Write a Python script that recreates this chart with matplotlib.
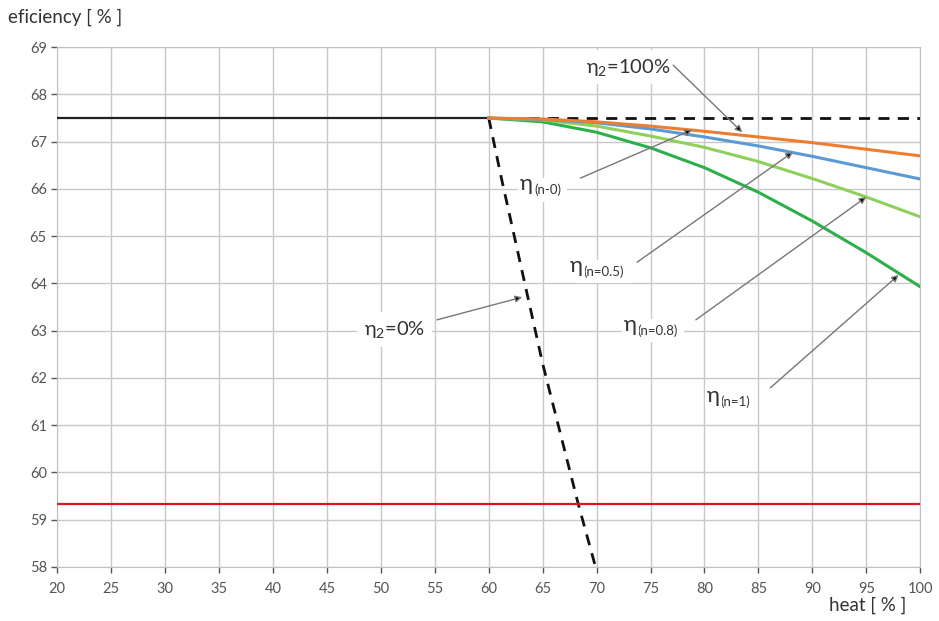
import numpy as np
import matplotlib.pyplot as plt

plt.rcParams['font.family'] = ['Lato', 'DejaVu Sans']
plt.rcParams['mathtext.fontset'] = 'custom'
plt.rcParams['mathtext.rm'] = 'Lato'
plt.rcParams['mathtext.it'] = 'Lato'

# data
heat = [60, 65, 70, 75, 80, 85, 90, 95, 100]
eta_orange = [67.5, 67.48, 67.42, 67.33, 67.22, 67.10, 66.98, 66.84, 66.70]
eta_blue = [67.5, 67.47, 67.40, 67.27, 67.10, 66.91, 66.69, 66.45, 66.21]
eta_lgreen = [67.5, 67.46, 67.33, 67.12, 66.88, 66.58, 66.22, 65.83, 65.41]
eta_dgreen = [67.5, 67.42, 67.20, 66.87, 66.45, 65.93, 65.32, 64.65, 63.93]

base_x = [20, 60]
base_y = [67.5, 67.5]
top_x = [60, 100]
top_y = [67.5, 67.5]
zero_x = [60, 61.2, 63.05, 65.0, 68.3, 69.9]
zero_y = [67.5, 66.2, 64.3, 62.3, 59.33, 58.0]
red_x = [20, 100]
red_y = [59.33, 59.33]

fig = plt.figure(figsize=(9.39, 6.21), dpi=100)
ax = fig.add_axes([0.061, 0.087, 0.919, 0.837])

ax.plot(base_x, base_y, color='#222222', lw=1.6, zorder=3)
ax.plot(top_x, top_y, color='#111111', lw=2, ls=(0, (4, 3)), zorder=3)
ax.plot(zero_x, zero_y, color='#111111', lw=2, ls=(0, (4, 3)), zorder=3)
ax.plot(red_x, red_y, color='#e0141e', lw=1.6, zorder=3)
ax.plot(heat, eta_dgreen, color='#2db04b', lw=2.2, zorder=4)
ax.plot(heat, eta_lgreen, color='#8fd05c', lw=2.2, zorder=4)
ax.plot(heat, eta_blue, color='#5b9bd5', lw=2.2, zorder=4)
ax.plot(heat, eta_orange, color='#ed7d31', lw=2.2, zorder=4)

arrow = dict(arrowstyle='-|>', color='#777777', fc='black', lw=1,
             mutation_scale=10, shrinkA=0, shrinkB=0)

# plain labels: (text, text pos, arrow tail, arrow head)
plain = [
    ('η$_2$=100%', (72.9, 68.58), (77.1, 68.62), (83.5, 67.2)),
    ('η$_2$=0%', (51.3, 63.02), (55.2, 63.23), (63.1, 63.71)),
]
for txt, tpos, tail, head in plain:
    ax.text(tpos[0], tpos[1], txt, fontsize=14.5, color='#333333', ha='center',
            va='center', bbox=dict(facecolor='white', edgecolor='none', pad=5), zorder=5)
    ax.annotate('', xy=head, xytext=tail, arrowprops=arrow, zorder=6)

# eta with subscript: (subscript, eta pos, arrow tail, arrow head)
subs = [
    ('(n-0)', (63.5, 66.1), (68.5, 66.23), (78.85, 67.25)),
    ('(n=0.5)', (68.1, 64.37), (73.75, 64.45), (88.2, 66.78)),
    ('(n=0.8)', (73.1, 63.12), (79.2, 63.23), (95.0, 65.83)),
    ('(n=1)', (80.8, 61.62), (86.1, 61.79), (98.0, 64.18)),
]
for sub, pos, tail, head in subs:
    ax.annotate(sub, xy=pos, xytext=(5.5, -4), textcoords='offset points',
                fontsize=9.5, color='#333333', ha='left', va='center',
                bbox=dict(facecolor='white', edgecolor='none', pad=4), zorder=5)
    ax.text(pos[0], pos[1], 'η', fontsize=16, color='#333333', ha='center',
            va='center', bbox=dict(facecolor='white', edgecolor='none', pad=1.5), zorder=5.5)
    ax.annotate('', xy=head, xytext=tail, arrowprops=arrow, zorder=6)

ax.set_xlim(20, 100)
ax.set_ylim(58, 69)
ax.set_xticks(np.arange(20, 101, 5))
ax.set_yticks(np.arange(58, 70, 1))
ax.grid(True, color='#c8c8c8', lw=1)
ax.set_axisbelow(True)
ax.tick_params(colors='#555555', labelsize=10.5, length=4, width=1)
ax.tick_params(axis='x', pad=7)
for s in ax.spines.values():
    s.set_color('#c0c0c0')

fig.text(0.008, 0.972, 'eficiency [ % ]', fontsize=13.5, color='#333333', ha='left', va='center')
fig.text(0.965, 0.025, 'heat [ % ]', fontsize=13.5, color='#333333', ha='right', va='center')

fig.savefig('out.png', dpi=100)
